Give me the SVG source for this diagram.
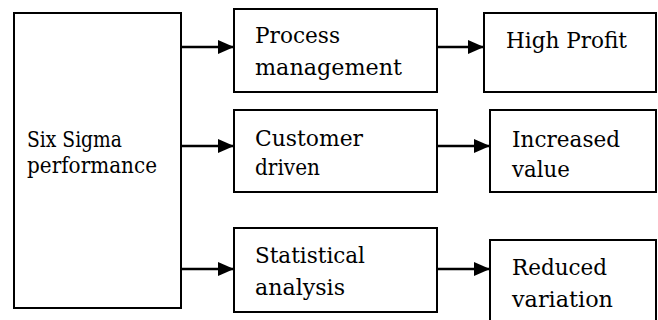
<svg xmlns="http://www.w3.org/2000/svg" width="658" height="320" viewBox="0 0 658 320">
<style>
rect{fill:#fff;stroke:#000;stroke-width:2}
text{font-family:"DejaVu Serif","Liberation Serif",serif;font-size:22.5px;fill:#000}
.c line{stroke:#000;stroke-width:2.5}
</style>
<defs>
<marker id="ah" markerUnits="userSpaceOnUse" markerWidth="17" markerHeight="14" refX="16" refY="7" orient="auto">
<path d="M0,0 L16,7 L0,14 Z" fill="#000"/>
</marker>
</defs>
<rect width="658" height="320" style="stroke:none"/>
<g id="six-sigma"><rect x="14" y="13" width="167" height="295"/>
<text x="27" y="147" textLength="95" lengthAdjust="spacingAndGlyphs">Six Sigma</text>
<text x="27" y="173" textLength="130" lengthAdjust="spacingAndGlyphs">performance</text></g>
<g id="process"><rect x="234" y="9" width="203" height="83"/>
<text x="255" y="43" textLength="85" lengthAdjust="spacingAndGlyphs">Process</text>
<text x="255" y="75" textLength="147" lengthAdjust="spacingAndGlyphs">management</text></g>
<g id="customer"><rect x="234" y="110" width="203" height="82"/>
<text x="255" y="146" textLength="108" lengthAdjust="spacingAndGlyphs">Customer</text>
<text x="255" y="175" textLength="65" lengthAdjust="spacingAndGlyphs">driven</text></g>
<g id="statistical"><rect x="234" y="228" width="203" height="84"/>
<text x="255" y="263" textLength="110" lengthAdjust="spacingAndGlyphs">Statistical</text>
<text x="255" y="295" textLength="90" lengthAdjust="spacingAndGlyphs">analysis</text></g>
<g id="profit"><rect x="484" y="13" width="172" height="79"/>
<text x="506" y="48" textLength="121" lengthAdjust="spacingAndGlyphs">High Profit</text></g>
<g id="value"><rect x="490" y="110" width="166" height="82"/>
<text x="512" y="147" textLength="108" lengthAdjust="spacingAndGlyphs">Increased</text>
<text x="512" y="177" textLength="58" lengthAdjust="spacingAndGlyphs">value</text></g>
<g id="variation"><rect x="490" y="240" width="166" height="84"/>
<text x="512" y="275" textLength="95" lengthAdjust="spacingAndGlyphs">Reduced</text>
<text x="512" y="307" textLength="101" lengthAdjust="spacingAndGlyphs">variation</text></g>
<g class="c" id="connectors">
<line x1="181" y1="47" x2="234" y2="47" marker-end="url(#ah)"/>
<line x1="181" y1="146" x2="234" y2="146" marker-end="url(#ah)"/>
<line x1="181" y1="269" x2="234" y2="269" marker-end="url(#ah)"/>
<line x1="437" y1="47" x2="484" y2="47" marker-end="url(#ah)"/>
<line x1="437" y1="146" x2="490" y2="146" marker-end="url(#ah)"/>
<line x1="437" y1="269" x2="490" y2="269" marker-end="url(#ah)"/>
</g>
</svg>
